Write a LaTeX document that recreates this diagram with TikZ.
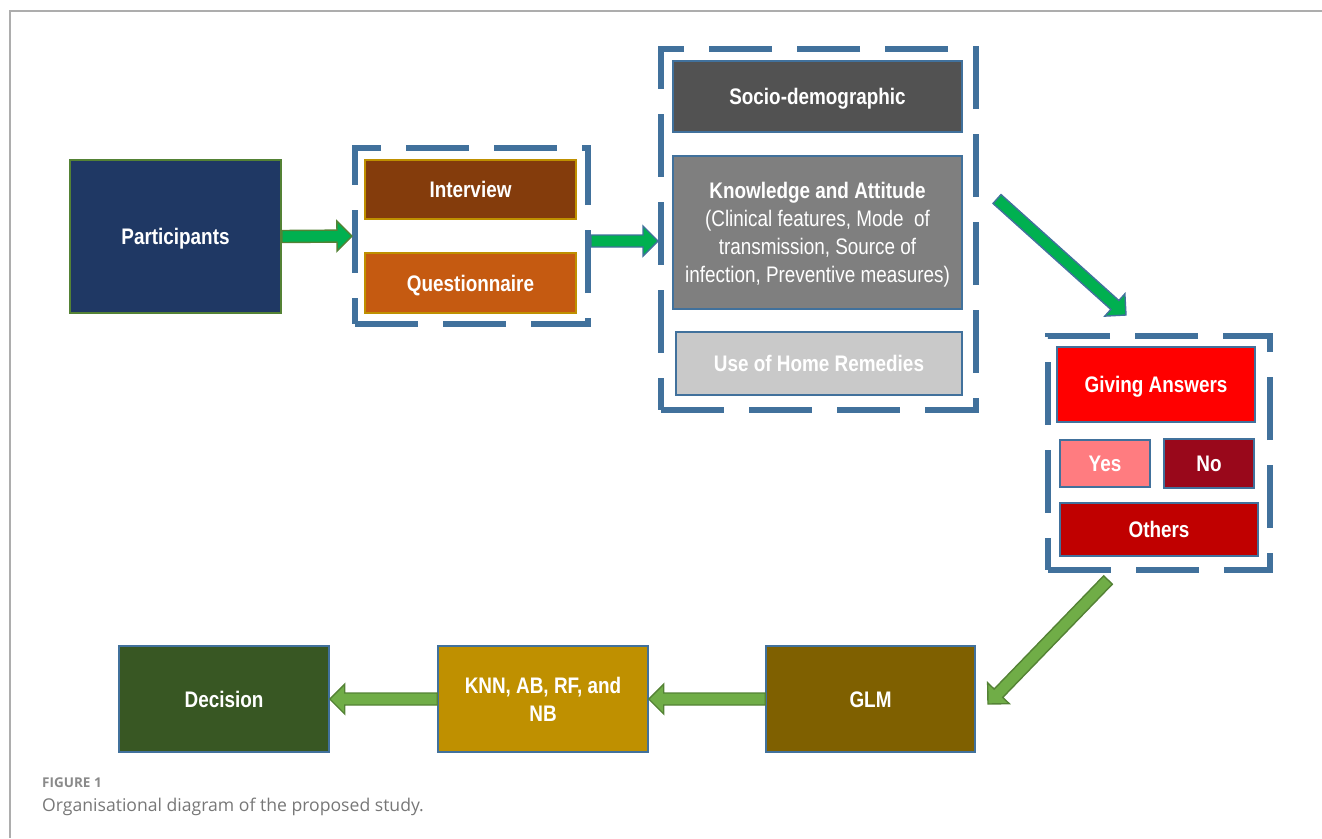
\documentclass[tikz,border=0pt]{standalone}
\usepackage{fontspec}
\usetikzlibrary{calc}
\newfontfamily\nar[FakeStretch=0.84]{Liberation Sans}
\newfontfamily\capfont{Open Sans}
\definecolor{bblue}{HTML}{41719C}
\definecolor{navy}{HTML}{1F3864}
\definecolor{pgreen}{HTML}{548235}
\definecolor{agreen}{HTML}{00B050}
\definecolor{lgreen}{HTML}{70AD47}
\definecolor{gold}{HTML}{BF9000}
\definecolor{brown1}{HTML}{843C0C}
\definecolor{orange1}{HTML}{C55A11}
\definecolor{gray1}{HTML}{525252}
\definecolor{gray2}{HTML}{7F7F7F}
\definecolor{gray3}{HTML}{C9C9C9}
\definecolor{red1}{HTML}{FF0000}
\definecolor{pink1}{HTML}{FF7C80}
\definecolor{dred}{HTML}{99081B}
\definecolor{red2}{HTML}{C00000}
\definecolor{olive1}{HTML}{7F6000}
\definecolor{dgreen}{HTML}{385723}
\definecolor{framegray}{HTML}{ADADAD}
\definecolor{capgray}{HTML}{777777}
\definecolor{figgray}{HTML}{8A8A8A}
\newcommand\blockarrow[4]{%
  \filldraw[fill=#3,draw=#4,line width=1.4pt,line join=miter]
    let \p1=#1, \p2=#2, \n1={atan2(\y2-\y1,\x2-\x1)}, \n2={veclen(\x2-\x1,\y2-\y1)} in
    {[shift={(\p1)},rotate=\n1]
      (0,-6) -- ({\n2-15},-6) -- ({\n2-15},-15) -- (\n2,0) -- ({\n2-15},15) -- ({\n2-15},6) -- (0,6) -- cycle};}
\begin{document}
\begin{tikzpicture}[x=1pt,y=-1pt,
  mbox/.style={draw=bblue,line width=1.5pt,inner sep=0pt,text=white,align=center,text depth=0pt,
    font=\nar\bfseries\fontsize{22.5}{28}\selectfont},
  box/.style={mbox,text height=16pt},
  grp/.style={draw=bblue,line width=6pt,dash pattern=on 63pt off 25pt,line join=miter,inner sep=0pt},
]
\useasboundingbox (0,0) rectangle (1322,838);
\draw[framegray,line width=1.5pt] (1322,11) -- (10,11) -- (10,838);

% groups
\node[grp,minimum width=233pt,minimum height=176pt] (g1) at (471.5,236) {};
\node[grp,minimum width=315pt,minimum height=361pt] (g2) at (818.5,229.5) {};
\node[grp,minimum width=222pt,minimum height=234pt] (g3) at (1159,453) {};

% boxes
\node[box,fill=navy,draw=pgreen,line width=2pt,minimum width=211pt,minimum height=153pt] (P) at (175.5,236.5) {Participants};
\node[box,fill=brown1,draw=gold,minimum width=211pt,minimum height=59pt] (I) at (470.5,189.5) {Interview};
\node[box,fill=orange1,draw=gold,minimum width=211pt,minimum height=60pt] (Q) at (470.5,283) {Questionnaire};
\node[box,fill=gray1,minimum width=289pt,minimum height=71pt] (S) at (817.5,96.5) {Socio-demographic};
\node[mbox,fill=gray2,minimum width=289pt,minimum height=153pt] (K) at (817.5,232.5)
  {Knowledge and Attitude\\ \mdseries(Clinical features, Mode\ \ of\\ \mdseries transmission, Source of\\ \mdseries infection, Preventive measures)};
\node[box,fill=gray3,minimum width=286pt,minimum height=63pt] (H) at (819,363.5) {Use of Home Remedies};
\node[box,fill=red1,minimum width=198pt,minimum height=75pt] (GA) at (1156,384.5) {Giving Answers};
\node[box,fill=pink1,minimum width=90pt,minimum height=47pt] (Y) at (1105,463.5) {Yes};
\node[box,fill=dred,minimum width=90pt,minimum height=49pt] (N) at (1209,463.5) {No};
\node[box,fill=red2,minimum width=198pt,minimum height=53pt] (O) at (1159,529.5) {Others};
\node[box,fill=olive1,minimum width=209pt,minimum height=106pt] (GLM) at (870.5,699) {GLM};
\node[mbox,fill=gold,minimum width=210pt,minimum height=106pt] (KNN) at (543,699) {KNN, AB, RF, and\\NB};
\node[box,fill=dgreen,minimum width=210pt,minimum height=106pt] (D) at (224,699) {Decision};

% arrows
\coordinate (a2s) at ($(g1.east)+(0,5)$);
\coordinate (d1s) at (997,199);
\coordinate (d1e) at (1126,315);
\coordinate (d2s) at (1108,580);
\coordinate (d2e) at (988,704);
\blockarrow{(P.east)}{(g1.west)}{agreen}{pgreen}
\blockarrow{(a2s)}{(a2s -| g2.west)}{agreen}{bblue}
\blockarrow{(d1s)}{(d1e)}{agreen}{bblue}
\blockarrow{(d2s)}{(d2e)}{lgreen}{pgreen}
\blockarrow{(GLM.west)}{(KNN.east)}{lgreen}{pgreen}
\blockarrow{(KNN.west)}{(D.east)}{lgreen}{pgreen}

% caption
\node[anchor=base west,inner sep=0pt,text=figgray,font=\capfont\bfseries\fontsize{13.5}{16}\selectfont] (fig) at (42,787) {FIGURE 1};
\node[anchor=base west,inner sep=0pt,text=capgray,font=\capfont\fontsize{17.6}{20}\selectfont] (cap) at (42,811) {Organisational diagram of the proposed study.};
\end{tikzpicture}
\end{document}
